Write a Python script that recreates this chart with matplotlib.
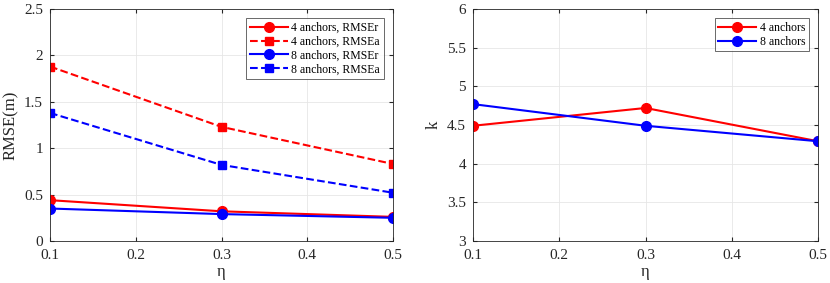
import matplotlib
matplotlib.use('Agg')
import matplotlib.pyplot as plt

plt.rcParams['font.family'] = ['Liberation Serif', 'DejaVu Serif']
plt.rcParams['font.size'] = 10

eta = [0.1, 0.3, 0.5]

# left panel: RMSE
rmse_r_4 = [0.44, 0.32, 0.26]
rmse_a_4 = [1.88, 1.23, 0.83]
rmse_r_8 = [0.35, 0.29, 0.25]
rmse_a_8 = [1.38, 0.82, 0.52]

# right panel: k
k_4 = [4.49, 4.72, 4.29]
k_8 = [4.77, 4.49, 4.29]


def style_axes(ax):
    ax.grid(True, color='#e6e6e6', linewidth=0.6)
    ax.set_axisbelow(True)
    ax.tick_params(direction='in', top=True, right=True, length=3,
                   color='#262626', labelsize=11, labelcolor='#262626')
    ax.tick_params(axis='x', pad=6)
    ax.tick_params(axis='y', pad=5)
    for s in ax.spines.values():
        s.set_color('#262626')
        s.set_linewidth(0.6)


fig = plt.figure(figsize=(8.3, 2.83), dpi=100)
ax1 = fig.add_axes([50 / 830, 42 / 283, 343 / 830, 232 / 283])
ax2 = fig.add_axes([473 / 830, 42 / 283, 345 / 830, 232 / 283])

ax1.plot(eta, rmse_r_4, '-o', color='red', lw=1.5, ms=7, label='4 anchors, RMSEr')
ax1.plot(eta, rmse_a_4, '--s', color='red', lw=1.5, ms=6, label='4 anchors, RMSEa')
ax1.plot(eta, rmse_r_8, '-o', color='blue', lw=1.5, ms=7, label='8 anchors, RMSEr')
ax1.plot(eta, rmse_a_8, '--s', color='blue', lw=1.5, ms=6, label='8 anchors, RMSEa')
ax1.set_xlim(0.1, 0.5)
ax1.set_ylim(0, 2.5)
ax1.set_xticks([0.1, 0.2, 0.3, 0.4, 0.5])
ax1.set_xticklabels(['0.1', '0.2', '0.3', '0.4', '0.5'])
ax1.set_yticks([0, 0.5, 1, 1.5, 2, 2.5])
ax1.set_yticklabels(['0', '0.5', '1', '1.5', '2', '2.5'])
ax1.set_xlabel('η', fontsize=12, color='#262626', labelpad=1)
ax1.set_ylabel('RMSE(m)', fontsize=12, color='#262626', labelpad=4)
style_axes(ax1)
leg = ax1.legend(loc='upper right', fontsize=8.5, frameon=True, fancybox=False,
                 edgecolor='#262626', handlelength=3.2, borderaxespad=0.8,
                 labelspacing=0.15, handletextpad=0.3, borderpad=0.3)
leg.get_frame().set_linewidth(0.6)

ax2.plot(eta, k_4, '-o', color='red', lw=1.5, ms=7, label='4 anchors')
ax2.plot(eta, k_8, '-o', color='blue', lw=1.5, ms=7, label='8 anchors')
ax2.set_xlim(0.1, 0.5)
ax2.set_ylim(3, 6)
ax2.set_xticks([0.1, 0.2, 0.3, 0.4, 0.5])
ax2.set_xticklabels(['0.1', '0.2', '0.3', '0.4', '0.5'])
ax2.set_yticks([3, 3.5, 4, 4.5, 5, 5.5, 6])
ax2.set_yticklabels(['3', '3.5', '4', '4.5', '5', '5.5', '6'])
ax2.set_xlabel('η', fontsize=12, color='#262626', labelpad=1)
ax2.set_ylabel('k', fontsize=12, color='#262626', labelpad=4)
style_axes(ax2)
leg2 = ax2.legend(loc='upper right', fontsize=8.5, frameon=True, fancybox=False,
                  edgecolor='#262626', handlelength=3.2, borderaxespad=0.8,
                  labelspacing=0.15, handletextpad=0.3, borderpad=0.3)
leg2.get_frame().set_linewidth(0.6)

fig.savefig('out.png', dpi=100)
